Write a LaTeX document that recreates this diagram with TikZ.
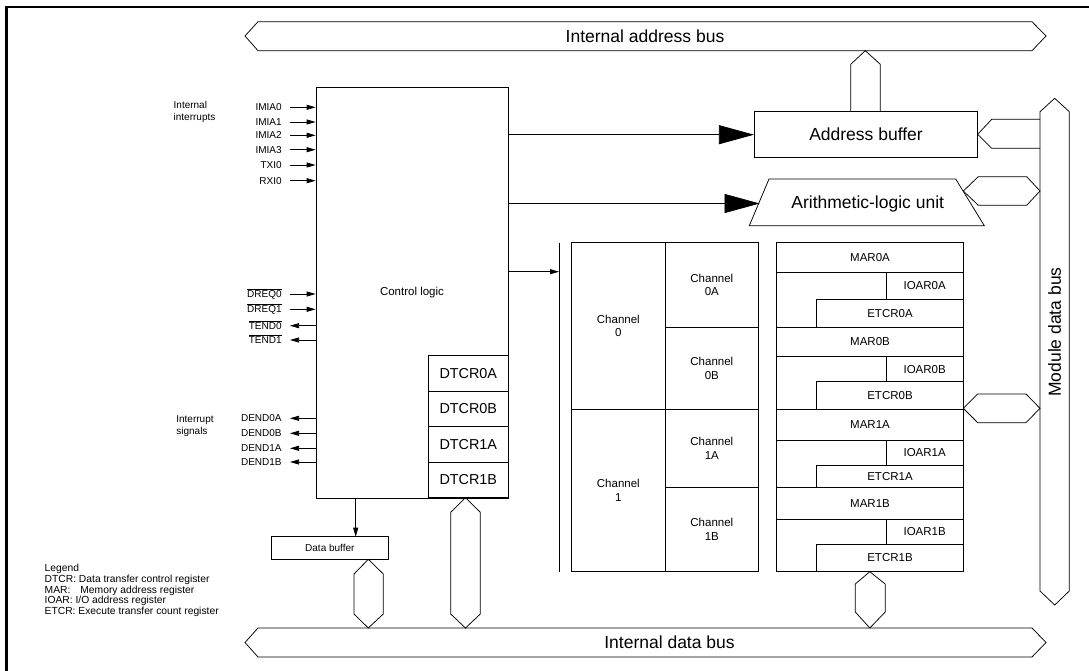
\documentclass[tikz,border=0pt]{standalone}
\usepackage{fontspec}
\setmainfont{Liberation Sans}
\usetikzlibrary{arrows.meta}

\tikzset{
  box/.style={draw,rectangle,inner sep=0pt},
  sig/.style={-{Triangle[length=9pt,width=5pt]}},
  bigsig/.style={-{Triangle[length=35pt,width=19pt]}},
  bustext/.style={font=\fontsize{17.5}{20}\selectfont},
  regtext/.style={font=\fontsize{11.5}{13.5}\selectfont},
  dtcrtext/.style={font=\fontsize{14.4}{16}\selectfont},
  sigtext/.style={font=\fontsize{10}{11.5}\selectfont},
  siglabel/.style={sigtext,anchor=east,inner xsep=8pt,inner ysep=0pt,text height=7pt,text depth=0pt},
}

\begin{document}
\begin{tikzpicture}[x=1pt,y=-1pt,line width=0.75pt]
  \useasboundingbox (0,0) rectangle (1089,671);
  % frame
  \draw[line width=2.5pt] (6.5,671) -- (6.5,7) -- (1089,7);

  % buses
  \draw (245,36) -- (258,21.7) -- (1032,21.7) -- (1046,36) -- (1032,50.7) -- (258,50.7) -- cycle;
  \node[bustext] (abus) at (645,36) {Internal address bus};
  \draw (245,642.5) -- (258,628) -- (1032,628) -- (1046,642.5) -- (1032,657) -- (258,657) -- cycle;
  \node[bustext] (dbus) at (669.5,642.5) {Internal data bus};
  \draw (1040,111.7) -- (1054.7,98.3) -- (1069.3,111.7) -- (1069.3,591) -- (1054.7,605) -- (1040,591) -- cycle;
  \node[bustext,rotate=90] (mbus) at (1054.7,332) {Module data bus};

  % control logic
  \node[box,regtext,minimum width=192pt,minimum height=411pt] (ctrl) at (412,292.5) {Control logic};
  \node[box,dtcrtext,minimum width=80pt,minimum height=35.6pt] (dtcr0a) at (468.3,373.1) {DTCR0A};
  \node[box,dtcrtext,minimum width=80pt,minimum height=35.6pt] (dtcr0b) at (468.3,408.7) {DTCR0B};
  \node[box,dtcrtext,minimum width=80pt,minimum height=35.6pt] (dtcr1a) at (468.3,444.3) {DTCR1A};
  \node[box,dtcrtext,minimum width=80pt,minimum height=35.6pt] (dtcr1b) at (468.3,479.9) {DTCR1B};

  % signals
  \node[sigtext,anchor=west,align=left,inner sep=0pt] (intin) at (173.3,111.7) {Internal\\interrupts};
  \node[siglabel] (imia0) at (290,107.3) {IMIA0};
  \node[siglabel] (imia1) at (290,122) {IMIA1};
  \node[siglabel] (imia2) at (290,135.3) {IMIA2};
  \node[siglabel] (imia3) at (290,149.7) {IMIA3};
  \node[siglabel] (txi0) at (290,165) {TXI0};
  \node[siglabel] (rxi0) at (290,180.7) {RXI0};
  \draw[sig] (imia0.east) -- (imia0.east -| ctrl.west);
  \draw[sig] (imia1.east) -- (imia1.east -| ctrl.west);
  \draw[sig] (imia2.east) -- (imia2.east -| ctrl.west);
  \draw[sig] (imia3.east) -- (imia3.east -| ctrl.west);
  \draw[sig] (txi0.east) -- (txi0.east -| ctrl.west);
  \draw[sig] (rxi0.east) -- (rxi0.east -| ctrl.west);

  \node[siglabel] (dreq0) at (290,294) {$\overline{\mbox{DREQ0}}$};
  \node[siglabel] (dreq1) at (290,309.3) {$\overline{\mbox{DREQ1}}$};
  \node[siglabel] (tend0) at (290,325.7) {$\overline{\mbox{TEND0}}$};
  \node[siglabel] (tend1) at (290,340) {$\overline{\mbox{TEND1}}$};
  \draw[sig] (dreq0.east) -- (dreq0.east -| ctrl.west);
  \draw[sig] (dreq1.east) -- (dreq1.east -| ctrl.west);
  \draw[sig] (tend0.east -| ctrl.west) -- (tend0.east);
  \draw[sig] (tend1.east -| ctrl.west) -- (tend1.east);

  \node[sigtext,anchor=west,align=left,inner sep=0pt,font=\fontsize{10}{12.5}\selectfont] (intout) at (176,426.3) {Interrupt\\signals};
  \node[siglabel] (dend0a) at (290,418.3) {DEND0A};
  \node[siglabel] (dend0b) at (290,433.3) {DEND0B};
  \node[siglabel] (dend1a) at (290,448.3) {DEND1A};
  \node[siglabel] (dend1b) at (290,462) {DEND1B};
  \draw[sig] (dend0a.east -| ctrl.west) -- (dend0a.east);
  \draw[sig] (dend0b.east -| ctrl.west) -- (dend0b.east);
  \draw[sig] (dend1a.east -| ctrl.west) -- (dend1a.east);
  \draw[sig] (dend1b.east -| ctrl.west) -- (dend1b.east);

  % address buffer and ALU
  \node[box,bustext,minimum width=223.4pt,minimum height=46pt] (abuf) at (866,134.7) {Address buffer};
  \draw (769,179) -- (955.7,179) -- (984.3,225.7) -- (749.3,225.7) -- cycle;
  \node[bustext] (alu) at (867.7,203.5) {Arithmetic-logic unit};
  \coordinate (aluin) at (759.6,203.5);
  \draw[bigsig] (ctrl.east |- abuf.west) -- (abuf.west);
  \draw[bigsig] (ctrl.east |- aluin) -- (aluin);
  \draw (850.7,111.7) -- (850.7,64.3) -- (865.3,50.7) -- (880.3,64.3) -- (880.3,111.7);
  \draw (1040,119.3) -- (991.7,119.3) -- (977.7,134.3) -- (991.7,148.3) -- (1040,148.3);
  \draw (963.3,191) -- (978.3,176.7) -- (1026.7,176.7) -- (1040,191) -- (1026.7,205.3) -- (978.3,205.3) -- cycle;

  % channels
  \coordinate (chin) at (559,271.7);
  \draw (559,242.7) -- (559,571.7);
  \draw[sig] (ctrl.east |- chin) -- (chin);
  \node[box,regtext,align=center,minimum width=93.3pt,minimum height=166.3pt] (ch0) at (618.35,325.85) {Channel\\0};
  \node[box,regtext,align=center,minimum width=93.7pt,minimum height=84.6pt] (ch0a) at (711.85,285) {Channel\\0A};
  \node[box,regtext,align=center,minimum width=93.7pt,minimum height=81.7pt] (ch0b) at (711.85,368.15) {Channel\\0B};
  \node[box,regtext,align=center,minimum width=93.3pt,minimum height=162.7pt] (ch1) at (618.35,490.35) {Channel\\1};
  \node[box,regtext,align=center,minimum width=93.7pt,minimum height=78.3pt] (ch1a) at (711.85,448.15) {Channel\\1A};
  \node[box,regtext,align=center,minimum width=93.7pt,minimum height=84.4pt] (ch1b) at (711.85,529.5) {Channel\\1B};

  % registers
  \node[box,minimum width=186.6pt,minimum height=329pt] (regs) at (870,407.2) {};
  \node[box,regtext,minimum width=186.6pt,minimum height=30pt] (mar0a) at (870,257.7) {MAR0A};
  \node[box,regtext,minimum width=77.3pt,minimum height=26.6pt] (ioar0a) at (924.65,286) {IOAR0A};
  \node[box,regtext,minimum width=146.6pt,minimum height=28pt] (etcr0a) at (890,313.3) {ETCR0A};
  \node[box,regtext,minimum width=186.6pt,minimum height=29.4pt] (mar0b) at (870,342) {MAR0B};
  \node[box,regtext,minimum width=77.3pt,minimum height=25pt] (ioar0b) at (924.65,369.2) {IOAR0B};
  \node[box,regtext,minimum width=146.6pt,minimum height=27.3pt] (etcr0b) at (890,395.35) {ETCR0B};
  \node[box,regtext,minimum width=186.6pt,minimum height=31.7pt] (mar1a) at (870,424.85) {MAR1A};
  \node[box,regtext,minimum width=77.3pt,minimum height=24.3pt] (ioar1a) at (924.65,452.85) {IOAR1A};
  \node[box,regtext,minimum width=146.6pt,minimum height=22.3pt] (etcr1a) at (890,476.15) {ETCR1A};
  \node[box,regtext,minimum width=186.6pt,minimum height=31.7pt] (mar1b) at (870,503.15) {MAR1B};
  \node[box,regtext,minimum width=77.3pt,minimum height=25.3pt] (ioar1b) at (924.65,531.65) {IOAR1B};
  \node[box,regtext,minimum width=146.6pt,minimum height=27.4pt] (etcr1b) at (890,558) {ETCR1B};
  \draw (963.3,408.3) -- (977.7,394) -- (1026,394) -- (1040,408.3) -- (1026,422.7) -- (977.7,422.7) -- cycle;
  \draw (869.8,571.7) -- (855.3,584) -- (855.3,612) -- (869.8,628) -- (885.2,612) -- (885.2,584) -- cycle;

  % data buffer
  \node[box,sigtext,minimum width=116.3pt,minimum height=23.3pt] (dbuf) at (329.85,548) {Data buffer};
  \coordinate (dbin) at (355.7,536.7);
  \draw[sig] (ctrl.south -| dbin) -- (dbin);
  \draw (368.3,559.3) -- (354,574) -- (354,614) -- (368.3,628) -- (383.3,614) -- (383.3,574) -- cycle;
  \draw (465.5,497.7) -- (450.7,512.3) -- (450.7,614) -- (465.5,628) -- (480.3,614) -- (480.3,512.3) -- cycle;

  % legend
  \node[anchor=west,align=left,inner sep=0pt,font=\fontsize{10.3}{10.7}\selectfont] (legend) at (44.3,590.5)
    {Legend\\DTCR:\ Data transfer control register\\MAR:\hspace{10pt}Memory address register\\IOAR:\ I/O address register\\ETCR:\ Execute transfer count register};
\end{tikzpicture}
\end{document}
